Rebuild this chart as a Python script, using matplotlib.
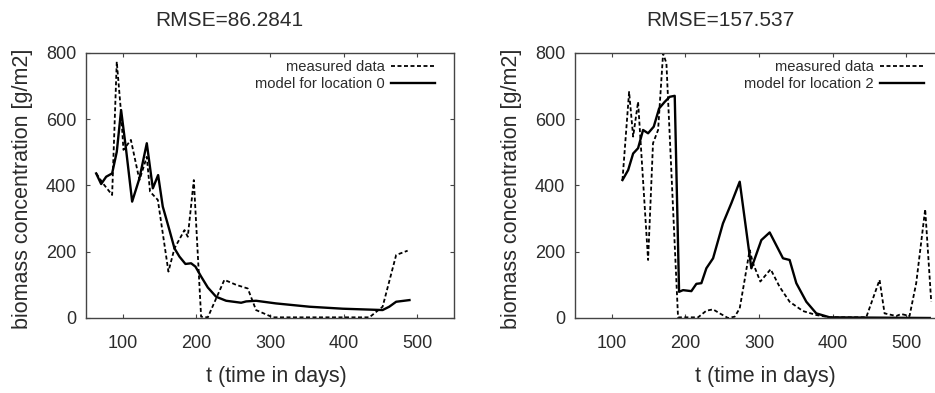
import matplotlib
matplotlib.use('Agg')
import matplotlib.pyplot as plt

plt.rcParams['font.family'] = ['Liberation Sans', 'DejaVu Sans']

# location 0 (left panel)
meas0_t = [64, 73, 85.5, 91.8, 97.7, 100.9, 111, 122.6, 132.6, 137, 147.6, 162, 170.2,
           183.8, 188.3, 196.5, 206.4, 215.5, 238, 254, 269.8, 281, 303.8, 435, 453,
           471.4, 487]
meas0_y = [436, 406, 371, 773, 617, 507, 537, 416, 486, 381, 356, 140, 210,
           265, 245, 416, 4, 2, 115, 100, 89, 24, 2, 2, 34,
           190, 203]
model0_t = [63.8, 70.6, 77.4, 85.5, 91.8, 97.7, 104.5, 112.7, 122.6, 132.6, 140.8, 148,
            154.3, 163.4, 170.2, 177, 185.1, 192.8, 198.7, 206.4, 215.5, 226.8, 240.4,
            260.8, 267.6, 281, 308, 353.6, 398.9, 453, 462, 471.4, 489.5]
model0_y = [436, 404, 426, 436, 501, 627, 507, 351, 421, 527, 391, 431,
            336, 265, 210, 185, 163, 165, 155, 125, 92, 64, 52,
            46, 50, 52, 44, 34, 28, 24, 34, 49, 54]

# location 2 (right panel)
meas2_t = [114.5, 123.5, 129, 135.7, 149.3, 156, 162.9, 169.7, 174.2, 190, 217.2, 228.5,
           237.6, 246.6, 257.9, 267, 273.8, 280.5, 287.3, 291.9, 301.8, 315.8, 328,
           341.6, 359.7, 377.8, 396, 445.7, 463.8, 470.6, 486.4, 493.2, 504.5, 513.6,
           525.8, 534]
meas2_y = [416, 682, 547, 652, 175, 527, 567, 798, 768, 2, 2, 22,
           26, 14, 0, 4, 29, 115, 205, 165, 110, 147, 94,
           49, 21, 9, 2, 2, 115, 14, 6, 12, 6, 105,
           328, 49]
model2_t = [114.5, 122.2, 129, 135.7, 142.5, 149.3, 157, 164.3, 172, 178.7, 185.5, 191.4,
            196.8, 208.1, 214.9, 221.7, 228.5, 237.6, 251, 262.4, 273.8, 289.6, 303.2,
            314.5, 332.6, 341.6, 350.7, 364.3, 377.8, 396, 532]
model2_y = [416, 446, 496, 512, 567, 557, 577, 632, 652, 667, 670, 79,
            84, 81, 103, 105, 150, 180, 285, 346, 411, 150, 235,
            258, 180, 175, 105, 49, 14, 2, 0]

titles = ['RMSE=86.2841', 'RMSE=157.537']
model_labels = ['model for location 0', 'model for location 2']
xticks = [100, 200, 300, 400, 500]
yticks = [0, 200, 400, 600, 800]

txt = '#2b2b2b'
W, H = 935, 393
fig = plt.figure(figsize=(W / 100, H / 100), dpi=100)

panels = [(86, meas0_t, meas0_y, model0_t, model0_y),
          (575, meas2_t, meas2_y, model2_t, model2_y)]

for i, (left, mt, my, st, sy) in enumerate(panels):
    ax = fig.add_axes([left / W, 1 - 318 / H, 368 / W, 265.3 / H])
    ax.plot(mt, my, color='black', lw=1.3, ls=(0, (2.2, 1.4)), label='measured data')
    ax.plot(st, sy, color='black', lw=1.7, label=model_labels[i])
    ax.set_xlim(50, 550)
    ax.set_ylim(0, 800)
    ax.set_xticks(xticks)
    ax.set_yticks(yticks)
    for s in ax.spines.values():
        s.set_color('#444444')
        s.set_linewidth(1.0)
    ax.tick_params(direction='in', length=3, width=0.8, color='#444444',
                   top=True, right=True, labelsize=13, labelcolor=txt)
    ax.tick_params(axis='x', pad=12)
    ax.tick_params(axis='y', pad=7)
    ax.text(0.39 if i == 0 else 0.396, 1.12, titles[i], transform=ax.transAxes,
            ha='center', va='center', fontsize=15, color=txt)
    ax.text(0.517, -0.222, 't (time in days)', transform=ax.transAxes,
            ha='center', va='center', fontsize=15.5, color=txt)
    ax.text(-0.173, 0.488, 'biomass concentration [g/m2]', transform=ax.transAxes,
            ha='center', va='center', rotation=90, fontsize=15.5, color=txt)
    leg = ax.legend(loc='upper right', bbox_to_anchor=(0.948, 0.972),
                    frameon=False, markerfirst=False, fontsize=10.6,
                    handlelength=3.0, handletextpad=0.4, labelspacing=0.2,
                    borderaxespad=0, borderpad=0)
    for t in leg.get_texts():
        t.set_color(txt)

fig.savefig('out.png', dpi=100)
